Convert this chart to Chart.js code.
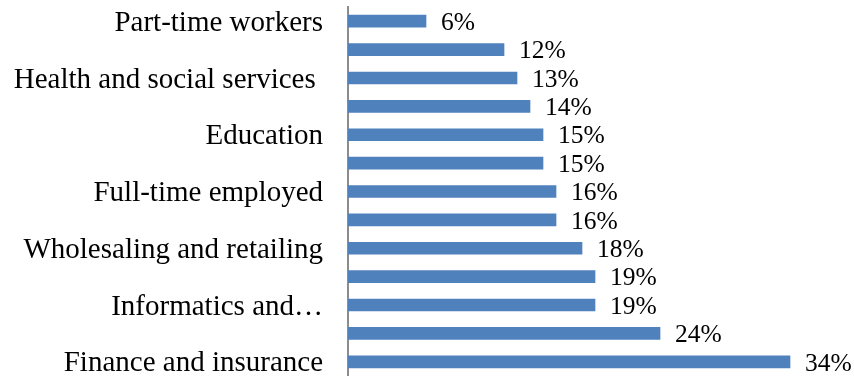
<!DOCTYPE html>
<html>
<head>
<meta charset="utf-8">
<style>
    html, body { margin: 0; padding: 0; background: #fff; }
    #wrap { width: 854px; height: 376px; }
</style>
</head>
<body>
<div id="wrap"><canvas id="barChart"></canvas></div>
<script src="https://cdn.jsdelivr.net/npm/chart.js"></script>
<script>
    // categories (Excel only printed every second label)
    const categories = [
        'Part-time workers', '',
        'Health and social services ', '',
        'Education', '',
        'Full-time employed', '',
        'Wholesaling and retailing', '',
        'Informatics and\u2026', '',
        'Finance and insurance'
    ];
    const shares = [6, 12, 13, 14, 15, 15, 16, 16, 18, 19, 19, 24, 34];

    const serif = '"Liberation Serif", "Times New Roman", serif';

    // value labels at bar ends
    const valueLabels = {
        id: 'valueLabels',
        afterDatasetsDraw(chart) {
            const ctx = chart.ctx;
            const meta = chart.getDatasetMeta(0);
            ctx.save();
            ctx.font = '25.5px ' + serif;
            ctx.fillStyle = '#000';
            ctx.textAlign = 'left';
            ctx.textBaseline = 'middle';
            meta.data.forEach((bar, i) => {
                ctx.fillText(shares[i] + '%', bar.x + 15, bar.y + 2);
            });
            ctx.restore();
        }
    };

    new Chart(document.getElementById('barChart'), {
        type: 'bar',
        data: {
            labels: categories,
            datasets: [{
                data: shares,
                backgroundColor: '#4F81BD',
                borderWidth: 0,
                barThickness: 12
            }]
        },
        options: {
            indexAxis: 'y',
            responsive: true,
            maintainAspectRatio: false,
            animation: false,
            layout: { padding: { top: 7, right: 12, bottom: 0, left: 0 } },
            plugins: {
                legend: { display: false },
                tooltip: { enabled: false }
            },
            scales: {
                x: {
                    display: false,
                    min: 0,
                    max: 38
                },
                y: {
                    grid: { display: false },
                    border: { display: true, color: '#8c8c8c', width: 2 },
                    ticks: {
                        autoSkip: false,
                        padding: 17,
                        labelOffset: 2,
                        color: '#000',
                        font: { family: serif, size: 29 }
                    },
                    afterFit(scale) {
                        scale.width = 348;
                        scale.paddingTop = 0;
                        scale.paddingBottom = 0;
                    }
                }
            }
        },
        plugins: [valueLabels]
    });
</script>
</body>
</html>
